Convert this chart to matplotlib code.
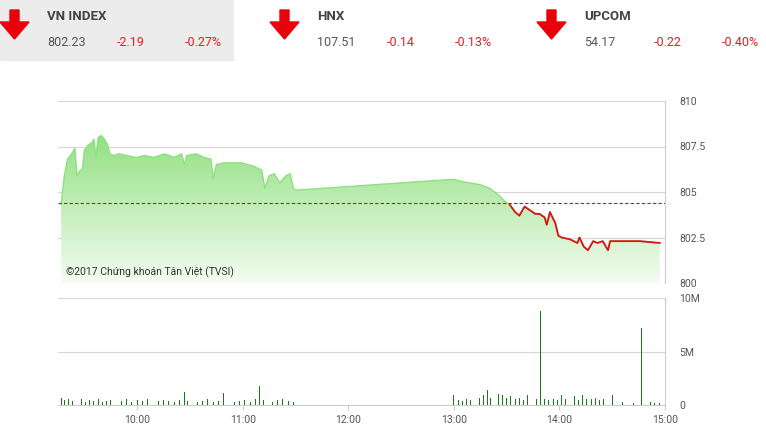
import numpy as np
import matplotlib.pyplot as plt
from matplotlib.patches import Polygon, Rectangle

# header values
names = ['VN INDEX', 'HNX', 'UPCOM']
closes = ['802.23', '107.51', '54.17']
changes = ['-2.19', '-0.14', '-0.22']
pcts = ['-0.27%', '-0.13%', '-0.40%']

ref_price = 804.42

# intraday price (hours, index)
t_price = [9.28, 9.31, 9.34, 9.38, 9.41, 9.43, 9.46, 9.48, 9.50, 9.54, 9.57, 9.59, 9.61,
           9.63, 9.66, 9.69, 9.72, 9.74, 9.78, 9.83, 9.90, 9.99, 10.07, 10.16, 10.26,
           10.35, 10.42, 10.45, 10.47, 10.56, 10.63, 10.70, 10.72, 10.75, 10.82, 10.92,
           10.99, 11.11, 11.18, 11.21, 11.25, 11.30, 11.35, 11.41, 11.45, 11.48, 11.50,
           13.00, 13.06, 13.15, 13.25, 13.34, 13.43, 13.48, 13.53, 13.58, 13.62, 13.67,
           13.72, 13.77, 13.81, 13.86, 13.88, 13.91, 13.96, 13.99, 14.02, 14.10, 14.17,
           14.19, 14.23, 14.27, 14.32, 14.36, 14.41, 14.46, 14.48, 14.57, 14.76, 14.95]
price = [804.3, 805.9, 806.8, 807.1, 807.4, 805.9, 806.2, 806.2, 807.3, 807.6, 807.7,
         807.9, 806.9, 808.0, 808.1, 807.9, 807.6, 807.1, 807.0, 807.1, 807.0, 806.9,
         807.0, 806.9, 807.1, 806.9, 807.1, 806.5, 807.0, 807.1, 806.9, 806.8, 805.7,
         806.5, 806.6, 806.6, 806.6, 806.4, 806.2, 805.2, 805.9, 806.0, 805.5, 805.9,
         806.0, 805.2, 805.1, 805.7, 805.6, 805.5, 805.4, 805.2, 804.8, 804.5, 804.3,
         803.9, 803.7, 804.2, 804.0, 803.8, 803.8, 803.6, 803.2, 803.9, 803.3, 802.6,
         802.5, 802.4, 802.2, 802.5, 802.0, 801.8, 802.3, 802.2, 802.3, 801.8, 802.3,
         802.3, 802.3, 802.2]

# volume bars (hours, millions)
t_vol = [9.28, 9.31, 9.35, 9.39, 9.43, 9.47, 9.51, 9.55, 9.59, 9.63, 9.67, 9.71, 9.75,
         9.80, 9.85, 9.90, 9.95, 10.00, 10.05, 10.10, 10.15, 10.20, 10.25, 10.30,
         10.35, 10.40, 10.45, 10.48, 10.52, 10.57, 10.62, 10.67, 10.72, 10.77, 10.82,
         10.87, 10.92, 10.97, 11.02, 11.07, 11.12, 11.16, 11.20, 11.24, 11.28, 11.33,
         11.38, 11.43, 11.48,
         13.00, 13.04, 13.08, 13.12, 13.16, 13.20, 13.24, 13.28, 13.32, 13.35, 13.38,
         13.42, 13.46, 13.50, 13.54, 13.58, 13.62, 13.66, 13.70, 13.74, 13.78, 13.82,
         13.86, 13.90, 13.94, 13.98, 14.02, 14.06, 14.10, 14.14, 14.18, 14.22, 14.26,
         14.30, 14.34, 14.38, 14.42, 14.46, 14.50, 14.60, 14.70, 14.78, 14.86, 14.90, 14.95]
vol = [0.7, 0.5, 0.6, 0.4, 0.5, 0.6, 0.3, 0.5, 0.4, 0.6, 0.3, 0.4, 0.5,
       0.3, 0.4, 0.6, 0.3, 0.5, 0.4, 0.6, 0.3, 0.4, 0.5, 0.4, 0.3,
       0.5, 1.2, 0.4, 0.5, 0.3, 0.4, 0.6, 0.3, 0.4, 1.1, 0.5, 0.3,
       0.4, 0.5, 0.3, 0.6, 1.8, 0.5, 0.4, 0.3, 0.5, 0.6, 0.4, 0.3,
       0.9, 0.5, 0.4, 0.6, 0.5, 0.8, 0.7, 0.9, 1.4, 0.7, 0.8, 1.0,
       0.9, 0.7, 0.8, 0.6, 0.7, 0.5, 0.9, 0.6, 0.6, 8.8, 0.6, 0.5,
       0.6, 0.5, 0.9, 0.6, 0.5, 0.8, 0.5, 0.9, 0.6, 0.6, 0.7, 0.5,
       0.6, 0.8, 0.9, 0.3, 0.2, 7.2, 0.3, 0.2, 0.2]

fig = plt.figure(figsize=(7.66, 4.32), dpi=100)
plt.rcParams['font.family'] = ['Roboto', 'DejaVu Sans']

# header
fig.patches.append(Rectangle((0, 1 - 60/432), 233/766, 60/432,
                             transform=fig.transFigure, color='#ececec', zorder=0))
for i, xl in enumerate([0, 270, 537]):
    arrow = [(8, 10), (17, 10), (17, 22), (27, 22), (12.5, 39), (-2, 22), (8, 22)]
    pts = [((xl + 2 + a) / 766, 1 - b / 432) for a, b in arrow]
    fig.patches.append(Polygon(pts, closed=True, transform=fig.transFigure,
                               color='#e8000a', zorder=2))
    tx = (xl + 47) / 766
    fig.text(tx, 1 - 16/432, names[i], fontsize=9.5, fontweight='bold', color='#444444', va='center')
    fig.text(tx, 1 - 43/432, closes[i], fontsize=9, color='#555555', va='center')
    fig.text(tx + 70/766, 1 - 43/432, changes[i], fontsize=9, color='#e02020', va='center')
    fig.text(tx + 138/766, 1 - 43/432, pcts[i], fontsize=9, color='#e02020', va='center')

t0, t1 = 9.25, 15.0
ax = fig.add_axes([58/766, 1 - 283/432, 607/766, 182/432])
ax.set_xlim(t0, t1)
ax.set_ylim(800, 810)

# gradient fill under the line
poly = ax.fill_between(t_price, price, 800, color='none')
grad = np.linspace(0, 1, 256).reshape(-1, 1)
img = ax.imshow(grad, extent=[t0, t1, 800, 808.3], origin='lower', aspect='auto',
                cmap=plt.matplotlib.colors.LinearSegmentedColormap.from_list(
                    'g', ['#f4fcf2', '#8fe07f']), zorder=1)
img.set_clip_path(poly.get_paths()[0], transform=ax.transData)

tp = np.array(t_price)
pp = np.array(price)
ax.plot(tp, pp, color='#8fe07f', lw=1, zorder=2)
below = tp >= 13.53
ax.plot(tp[below], pp[below], color='#dd1111', lw=1.3, zorder=3)
ax.axhline(ref_price, color='#cc1111', ls=(0, (3, 2)), lw=0.8, zorder=3)
ax.text(9.33, 800.4, '©2017 Chứng khoán Tân Việt (TVSI)', fontsize=7.5, color='#333333', zorder=4)

ax.set_yticks([800, 802.5, 805, 807.5, 810])
ax.set_yticklabels(['800', '802.5', '805', '807.5', '810'])
ax.grid(axis='y', color='#d6d6d6', lw=0.8)
ax.set_axisbelow(True)

vx = fig.add_axes([58/766, 1 - 405/432, 607/766, 107/432])
vx.set_xlim(t0, t1)
vx.set_ylim(0, 10)
vx.bar(t_vol, vol, width=0.008, color='#1a7a1a', zorder=3)
vx.set_yticks([0, 5, 10])
vx.set_yticklabels(['0', '5M', '10M'])
vx.set_xticks([10, 11, 12, 13, 14, 15])
vx.set_xticklabels(['10:00', '11:00', '12:00', '13:00', '14:00', '15:00'])
vx.grid(axis='y', color='#d6d6d6', lw=0.8)
vx.set_axisbelow(True)

for a in (ax, vx):
    a.yaxis.tick_right()
    for s in ('left', 'top'):
        a.spines[s].set_visible(False)
    a.spines['right'].set_color('#cccccc')
    a.spines['bottom'].set_color('#cccccc')
    a.tick_params(axis='y', length=0, labelsize=7.5, labelcolor='#555555', pad=10)
    a.tick_params(axis='x', labelsize=7.5, labelcolor='#555555', color='#cccccc')
ax.set_xticks([])
ax.spines['bottom'].set_visible(False)

fig.savefig('out.png', dpi=100)
